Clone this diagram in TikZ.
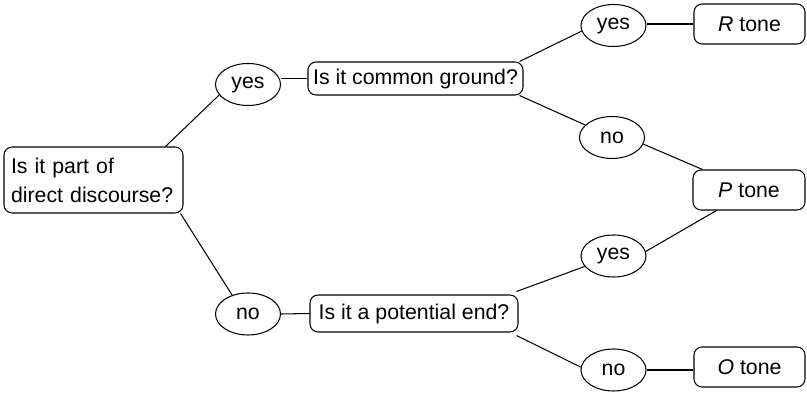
\documentclass[tikz,border=0pt]{standalone}
\usepackage{fontspec}
\setmainfont{Liberation Sans}
\usetikzlibrary{shapes.geometric}
\begin{document}
\begin{tikzpicture}[x=1pt,y=-1pt,
  every node/.style={font=\fontsize{21.3}{29}\selectfont},
  qbox/.style={draw, line width=1.05pt, rounded corners=8pt, inner sep=0pt},
  ans/.style={draw, ellipse, line width=1.05pt, minimum width=65pt, minimum height=42pt, inner sep=0pt},
  conn/.style={line width=1.05pt}]
\useasboundingbox (0,0) rectangle (807,395);
\node[qbox, minimum width=179pt, minimum height=66pt, text width=165pt, inner xsep=7pt, align=left] (main) at (93.5,180) {Is it part of\\direct discourse?};
\node[ans] (yes1) at (248,84.5) {yes};
\node[qbox, minimum width=215pt, minimum height=33pt] (cg) at (415.5,78.5) {Is it common ground?};
\node[ans] (yes2) at (613.5,25.5) {yes};
\node[qbox, minimum width=111pt, minimum height=40pt] (R) at (749.5,24) {\textit{R} tone};
\node[ans] (no1) at (612,137.5) {no};
\node[qbox, minimum width=112pt, minimum height=40pt] (P) at (749,190) {\textit{P} tone};
\node[ans] (no2) at (248,314) {no};
\node[qbox, minimum width=208pt, minimum height=37pt] (pe) at (414,313.5) {Is it a potential end?};
\node[ans] (yes3) at (613.5,256) {yes};
\node[ans] (no3) at (613.5,370) {no};
\node[qbox, minimum width=111pt, minimum height=40pt] (O) at (749.5,367) {\textit{O} tone};
\draw[conn] ([xshift=-18pt]main.north east) -- (yes1.200);
\draw[conn] ([xshift=-3pt]main.south east) -- (no2.130);
\draw[conn] (cg.west) -- (yes1.east |- cg.west);
\draw[conn] (no2.east) -- (pe.west);
\draw[conn] ([xshift=-4pt]cg.north east) -- (yes2.190);
\draw[conn] ([xshift=-4pt]cg.south east) -- (no1.155);
\draw[conn] (yes2.east |- R.west) -- (R.west);
\draw[conn] (no1.-12) -- ([xshift=10pt]P.north west);
\draw[conn] ([xshift=24pt]P.south west) -- (yes3.8);
\draw[conn] ([shift={(-2pt,3pt)}]pe.north east) -- (yes3.200);
\draw[conn] ([shift={(-2pt,-3pt)}]pe.south east) -- (no3.175);
\draw[conn] (no3.east) -- (no3.east -| O.west);
\end{tikzpicture}
\end{document}
